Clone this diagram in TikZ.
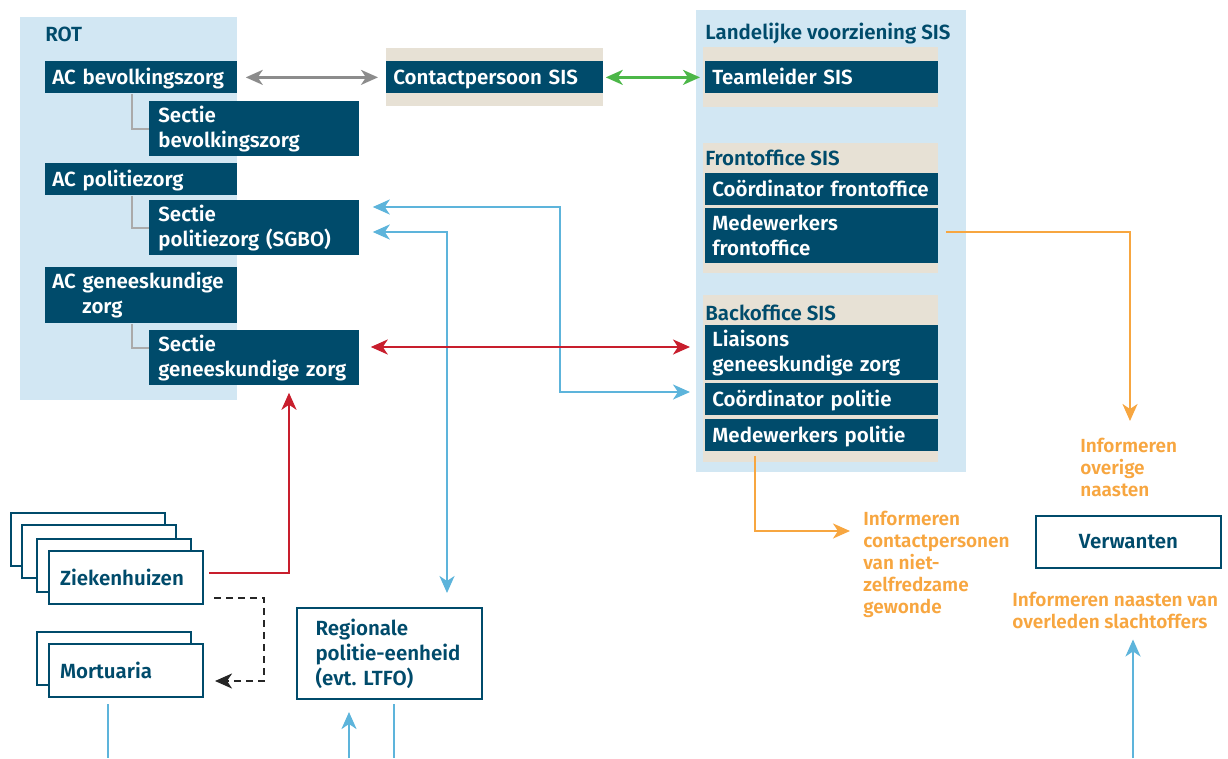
\documentclass[tikz,border=0pt]{standalone}
\usepackage{fontspec}
\setmainfont{Fira Sans}[BoldFont={Fira Sans SemiBold}]
\usetikzlibrary{arrows.meta}
\definecolor{dkblue}{RGB}{0,75,107}
\definecolor{paleblue}{RGB}{210,231,243}
\definecolor{sand}{RGB}{231,225,213}
\definecolor{orng}{RGB}{247,166,64}
\definecolor{skyblue}{RGB}{93,180,219}
\definecolor{rd}{RGB}{200,30,45}
\definecolor{grn}{RGB}{76,183,72}
\definecolor{midgray}{RGB}{140,140,140}
\definecolor{ltgray}{RGB}{170,170,170}
\newcommand{\boxfont}{\bfseries\fontsize{20.5}{25}\selectfont}
\newcommand{\notefont}{\bfseries\fontsize{19}{22}\selectfont}
\hyphenpenalty=10000
\exhyphenpenalty=10000
\tikzset{every picture/.style={line width=0.75pt}}

\begin{document}
\begin{tikzpicture}[x=1pt,y=1pt,yscale=-1,xscale=1,
  >={Stealth[length=17pt,width=15pt,inset=5pt]},
  panel/.style={fill=paleblue},
  band/.style={fill=sand},
  dbox/.style={fill=dkblue, text=white, font=\boxfont, anchor=north west, inner xsep=7pt, inner ysep=0pt, align=left},
  oneline/.style={text height=17pt, text depth=2pt, minimum height=32pt},
  wbox/.style={draw=dkblue, line width=2pt, fill=white, text=dkblue, font=\boxfont, anchor=north west, inner xsep=11pt, inner ysep=0pt, align=left, text width=132pt, minimum height=53pt},
  head/.style={text=dkblue, font=\boxfont, anchor=west, inner sep=0pt},
  note/.style={text=orng, font=\notefont, anchor=north west, inner sep=0pt, align=left},
  tree/.style={draw=ltgray, line width=2.5pt},
  link/.style={line width=2.5pt}]
\useasboundingbox (0,0) rectangle (1228,758);

% backgrounds
\fill[panel] (20,17) rectangle (237,400);
\fill[panel] (696,10) rectangle (966,472);
\fill[band] (386,48) rectangle (603,106);
\fill[band] (703,47) rectangle (938,107);
\fill[band] (703,143) rectangle (938,273);
\fill[band] (703,295) rectangle (938,462);

% ROT
\node[head] (rot) at (45,34) {ROT};
\node[dbox, oneline, text width=178pt] (acbev) at (45,61) {AC bevolkingszorg};
\node[dbox, inner xsep=9pt, text width=192pt, minimum height=55pt] (sbev) at (149,101) {Sectie\\bevolkingszorg};
\node[dbox, oneline, text width=178pt] (acpol) at (45,163) {AC politiezorg};
\node[dbox, inner xsep=9pt, text width=192pt, minimum height=55pt] (spol) at (149,200) {Sectie\\politiezorg (SGBO)};
\node[dbox, text width=178pt, minimum height=56pt] (acgen) at (45,267) {AC geneeskundige\\\hspace*{30pt}zorg};
\node[dbox, inner xsep=9pt, text width=192pt, minimum height=55pt] (sgen) at (149,330) {Sectie\\geneeskundige zorg};

\draw[tree] (acbev.south -| 132,0) |- (sbev.west);
\draw[tree] (acpol.south -| 132,0) |- (spol.west);
\draw[tree] (acgen.south -| 132,0) |- (sgen.west |- 0,348);

% contactpersoon
\node[dbox, oneline, text width=203pt] (contact) at (386,61) {Contactpersoon SIS};

% landelijke voorziening
\node[head] (lv) at (705,34) {Landelijke voorziening SIS};
\node[dbox, oneline, text width=219pt] (team) at (705,61) {Teamleider SIS};
\node[head] (fo) at (705,158) {Frontoffice SIS};
\node[dbox, oneline, text width=219pt] (cfront) at (705,173) {Coördinator frontoffice};
\node[dbox, text width=219pt, minimum height=55pt] (mfront) at (705,208) {Medewerkers\\frontoffice};
\node[head] (bo) at (705,313) {Backoffice SIS};
\node[dbox, text width=219pt, minimum height=55pt] (liaison) at (705,325) {Liaisons\\geneeskundige zorg};
\node[dbox, oneline, text width=219pt] (cpol) at (705,383) {Coördinator politie};
\node[dbox, oneline, text width=219pt] (mpol) at (705,419) {Medewerkers politie};

% ziekenhuizen, mortuaria, politie
\node[wbox] (zk1) at (10,512) {};
\node[wbox] (zk2) at (21,524) {};
\node[wbox] (zk3) at (36,538) {};
\node[wbox] (zk) at (48,550) {Ziekenhuizen};
\node[wbox] (mo1) at (36,631) {};
\node[wbox] (mort) at (48,643) {Mortuaria};
\node[wbox, inner xsep=18.5pt, text width=148pt, minimum height=91pt] (regio) at (296,607) {Regionale\\politie-eenheid\\(evt.\ LTFO)};
\node[wbox, align=center, text width=163pt, minimum height=52pt] (verw) at (1035,515) {Verwanten};

% orange notes
\node[note] (overig) at (1080,438) {Informeren\\overige\\naasten};
\node[note] (contactp) at (863,511) {Informeren\\contactpersonen\\van niet-\\zelfredzame\\gewonde};
\node[note] (overleden) at (1012,592) {Informeren naasten van\\overleden slachtoffers};

% free ends at the bottom edge
\coordinate (b1) at (108,758);
\coordinate (b2) at (349,758);
\coordinate (b3) at (394,758);
\coordinate (b4) at (1133,758);

% connectors
\draw[link, midgray, <->, shorten <=8pt, shorten >=8pt] (acbev.east) -- (contact.west);
\draw[link, grn, <->, shorten <=2pt, shorten >=5pt] (contact.east) -- (team.west);
\draw[link, skyblue, <->, shorten <=13pt, shorten >=15pt] (spol.east |- 0,207) -| (560,392) -- (cpol.west |- 0,392);
\draw[link, skyblue, <->, shorten <=13pt, shorten >=14pt] (spol.east |- 0,232) -| (regio.north -| 447,0);
\draw[link, rd, <->, shorten <=11pt, shorten >=15pt] (sgen.east |- 0,347) -- (liaison.west |- 0,347);
\draw[link, rd, ->, shorten <=5pt, shorten >=7pt] (zk.east |- 0,573) -| (sgen.south -| 289,0);
\draw[link, black!85, dashed, dash pattern=on 7pt off 5pt, ->, shorten <=10pt, shorten >=11pt] (zk.east |- 0,598) -- (264,598) -- (264,681) -- (mort.east |- 0,681);
\draw[link, orng, ->, shorten <=7pt, shorten >=17pt] (mfront.east |- 0,232) -| (overig.north -| 1130,0);
\draw[link, orng, ->, shorten <=4pt, shorten >=13pt] (mpol.south -| 755,0) |- (contactp.west |- 0,531);
\draw[link, skyblue, shorten <=6pt] (mort.south -| b1) -- (b1);
\draw[link, skyblue, ->, shorten >=12pt] (b2) -- (regio.south -| b2);
\draw[link, skyblue, shorten <=4pt] (regio.south -| b3) -- (b3);
\draw[link, skyblue, ->, shorten >=10pt] (b4) -- (overleden.south -| b4);
\end{tikzpicture}
\end{document}
